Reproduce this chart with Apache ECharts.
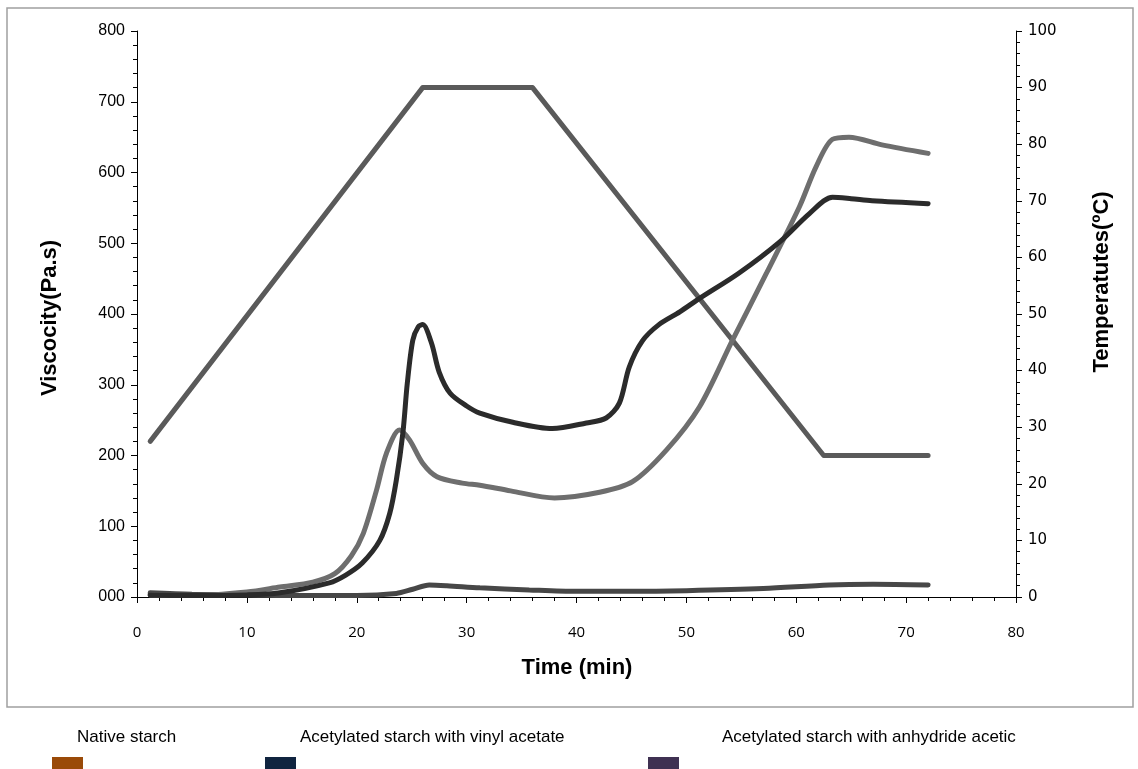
<!DOCTYPE html>
<html>
<head>
<meta charset="utf-8">
<title>Viscosity and temperature</title>
<script src="https://cdn.jsdelivr.net/npm/echarts@6/dist/echarts.min.js"></script>
<style>
    html, body { margin: 0; padding: 0; background: #fff; }
    #chart { width: 1138px; height: 769px; }
</style>
</head>
<body>
<div id="chart"></div>
<script>
    // time (min) and viscosity (Pa.s) of each sample
    const nativeTime = [1.2, 5, 10, 13, 17.5, 19, 20.5, 22.1, 23, 23.6, 24.2, 24.6, 25.1, 25.6, 26, 26.8, 27.5, 28.5, 30, 31.2, 34.2, 37.8, 40.9, 42.7, 43.9, 44.8, 46, 47.5, 49.4, 51.2, 54.8, 58.5, 61.2, 63.3, 65, 66.9, 72];
    const nativeVisc = [3, 2, 3, 6, 20, 31, 48, 80, 118, 165, 232, 302, 363, 382, 385, 359, 318, 288, 270, 260, 247, 238, 246, 253, 274, 325, 362, 385, 403, 422, 458, 502, 542, 565, 563, 560, 556];

    const vinylTime = [1.2, 5, 10, 13, 16, 18, 19.5, 20.6, 21.8, 22.7, 23.9, 24.8, 26, 27.3, 29.6, 31.2, 34, 38, 42.1, 45.1, 48.2, 51.2, 54.2, 57.3, 60.3, 61.8, 63.3, 64.8, 67.8, 72];
    const vinylVisc = [3, 2, 7, 14, 21, 33, 58, 90, 151, 203, 236, 222, 189, 170, 161, 158, 150, 140, 148, 163, 208, 269, 363, 458, 552, 608, 647, 650, 639, 627];

    const anhydrideTime = [1.2, 5, 10, 15, 20, 23.6, 25.1, 26.6, 28.2, 31.2, 35.7, 40, 45, 50, 57, 63, 67, 72];
    const anhydrideVisc = [6, 4, 3, 2, 2, 5, 11, 17, 16, 13, 10, 8, 8, 9, 12, 17, 18, 17];

    // temperature program (ºC)
    const tempTime = [1.2, 26, 36, 62.5, 72];
    const tempValue = [27.5, 90, 90, 25, 25];

    const legendNames = ['Native starch', 'Acetylated starch with vinyl acetate', 'Acetylated starch with anhydride acetic'];
    const legendColors = ['#9a4a08', '#10243f', '#3f3152'];

    function pairs(xs, ys) {
        let out = [];
        for (let i = 0; i < xs.length; ++i) {
            out.push([xs[i], ys[i]]);
        }
        return out;
    }

    const chart = echarts.init(document.getElementById('chart'));

    const tickStyle = {color: '#000', width: 1};
    const labelFont = 'Liberation Sans, sans-serif';

    let legendGraphics = [];
    const legendX = [[52, 77], [265, 300], [648, 722]];
    for (let i = 0; i < legendNames.length; ++i) {
        legendGraphics.push({
            type: 'rect',
            shape: {x: legendX[i][0], y: 757, width: 31, height: 12},
            style: {fill: legendColors[i]}
        });
        legendGraphics.push({
            type: 'text',
            x: legendX[i][1],
            y: 737,
            style: {
                text: legendNames[i],
                font: '17px ' + labelFont,
                fill: '#000',
                verticalAlign: 'middle'
            }
        });
    }

    const options = {
        animation: false,
        grid: {left: 137, right: 122, top: 31, bottom: 172},
        xAxis: {
            type: 'value',
            min: 0, max: 80, interval: 10,
            axisLine: {onZero: false, lineStyle: tickStyle},
            axisTick: {length: 6, lineStyle: tickStyle},
            minorTick: {show: true, splitNumber: 5, length: 4, lineStyle: tickStyle},
            splitLine: {show: false},
            axisLabel: {color: '#000', fontSize: 15, fontFamily: 'Open Sans', margin: 28}
        },
        yAxis: [
            {
                type: 'value',
                min: 0, max: 800, interval: 100,
                axisLine: {show: true, lineStyle: tickStyle},
                axisTick: {show: true, length: 6, lineStyle: tickStyle},
                minorTick: {show: true, splitNumber: 5, length: 4, lineStyle: tickStyle},
                splitLine: {show: false},
                axisLabel: {
                    color: '#000', fontSize: 16, fontFamily: labelFont, margin: 12,
                    formatter: v => String(v).padStart(3, '0')
                }
            },
            {
                type: 'value',
                position: 'right',
                min: 0, max: 100, interval: 10,
                axisLine: {show: true, lineStyle: tickStyle},
                axisTick: {show: true, length: 6, lineStyle: tickStyle},
                minorTick: {show: true, splitNumber: 5, length: 4, lineStyle: tickStyle},
                splitLine: {show: false},
                axisLabel: {color: '#000', fontSize: 15, fontFamily: 'DejaVu Sans', margin: 12}
            }
        ],
        graphic: [
            {
                type: 'rect',
                shape: {x: 7, y: 8, width: 1126, height: 699},
                style: {fill: 'none', stroke: '#a0a0a0', lineWidth: 1.5},
                z: -10
            },
            {
                type: 'text', x: 577, y: 668,
                style: {text: 'Time (min)', font: 'bold 22px ' + labelFont, fill: '#000', align: 'center', verticalAlign: 'middle'}
            },
            {
                type: 'text', x: 50, y: 318, rotation: Math.PI / 2,
                style: {text: 'Viscocity(Pa.s)', font: 'bold 22px ' + labelFont, fill: '#000', align: 'center', verticalAlign: 'middle'}
            },
            {
                type: 'text', x: 1102, y: 282, rotation: Math.PI / 2,
                style: {text: 'Temperatutes(ºC)', font: 'bold 22px ' + labelFont, fill: '#000', align: 'center', verticalAlign: 'middle'}
            }
        ].concat(legendGraphics),
        series: [
            {
                name: 'Temperature',
                type: 'line',
                yAxisIndex: 1,
                showSymbol: false,
                lineStyle: {color: '#5a5a5a', width: 5, cap: 'round', join: 'round'},
                data: pairs(tempTime, tempValue)
            },
            {
                name: legendNames[2],
                type: 'line',
                smooth: 0.3,
                showSymbol: false,
                lineStyle: {color: '#474747', width: 5, cap: 'round'},
                data: pairs(anhydrideTime, anhydrideVisc)
            },
            {
                name: legendNames[1],
                type: 'line',
                smooth: 0.3,
                showSymbol: false,
                lineStyle: {color: '#6e6e6e', width: 5, cap: 'round'},
                data: pairs(vinylTime, vinylVisc)
            },
            {
                name: legendNames[0],
                type: 'line',
                smooth: 0.3,
                showSymbol: false,
                lineStyle: {color: '#2b2b2b', width: 5, cap: 'round'},
                data: pairs(nativeTime, nativeVisc)
            }
        ]
    };
    chart.setOption(options, true);
</script>
</body>
</html>
